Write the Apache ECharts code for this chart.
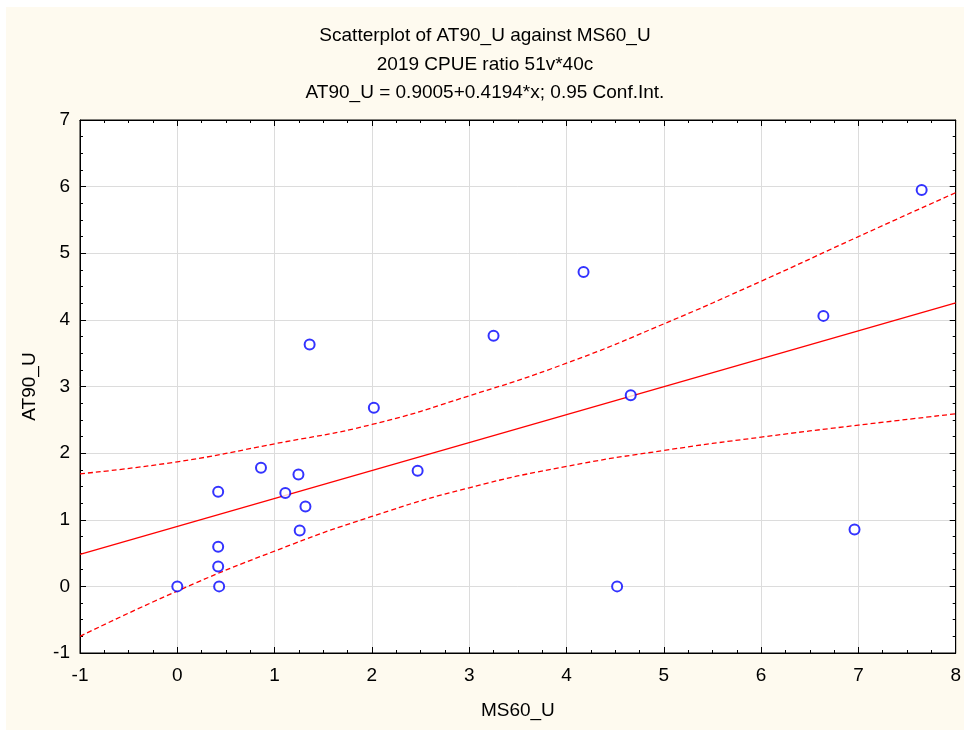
<!DOCTYPE html>
<html>
<head>
<meta charset="utf-8">
<script src="https://cdn.jsdelivr.net/npm/echarts@6/dist/echarts.min.js"></script>
<style>
  html, body { margin: 0; padding: 0; background: #ffffff; }
  #chart_scatter { position: absolute; left: 6px; top: 7px; width: 958px; height: 723px; background: #fefaef; }
</style>
</head>
<body>
<div id="chart_scatter"></div>
<script>
  // MS60_U (x) and AT90_U (y) for each case
  const ms60 = [0, 0.43, 0.42, 0.42, 0.42, 0.86, 1.11, 1.245, 1.317, 1.258, 2.02, 2.47, 1.36, 3.25, 4.175, 4.66, 4.52, 6.64, 6.96, 7.65]
  const at90 = [0, 0, 0.30, 0.595, 1.42, 1.78, 1.40, 1.68, 1.20, 0.84, 2.68, 1.735, 3.63, 3.76, 4.72, 2.87, 0, 4.06, 0.855, 5.95]

  // fitted line AT90_U = 0.9005+0.4194*x, end points
  const fitX = [-1, 8]
  const fitY = [0.481, 4.256]

  // 0.95 confidence band, read at whole x values
  const bandX = [-1, 0, 1, 2, 3, 4, 5, 6, 7, 8]
  const bandUpper = [1.69, 1.87, 2.14, 2.43, 2.86, 3.35, 3.94, 4.58, 5.25, 5.91]
  const bandLower = [-0.75, -0.07, 0.53, 1.05, 1.48, 1.80, 2.04, 2.24, 2.42, 2.59]

  const xTicks = [-1, 0, 1, 2, 3, 4, 5, 6, 7, 8]
  const yTicks = [-1, 0, 1, 2, 3, 4, 5, 6, 7]

  const zip = (a, b) => a.map((v, i) => [v, b[i]])

  const font = 'Liberation Sans, Arial, sans-serif'
  const red = '#ff0000'
  const blue = '#0000ff'

  function frameAxis (extra) {
    return Object.assign({
      type: 'value',
      axisLine: { show: true, onZero: false, lineStyle: { color: '#000', width: 1 } },
      axisTick: { show: true, inside: true, length: 6, lineStyle: { color: '#000' } },
      minorTick: { show: true, splitNumber: 4, length: 3, lineStyle: { color: '#000' } },
      splitLine: { show: false },
      axisLabel: { show: false }
    }, extra)
  }

  const chart = echarts.init(document.getElementById('chart_scatter'))
  const options = {
    animation: false,
    textStyle: { fontFamily: font },
    title: {
      text: 'Scatterplot of AT90_U against MS60_U\n2019 CPUE ratio 51v*40c\nAT90_U = 0.9005+0.4194*x; 0.95 Conf.Int.',
      left: 'center',
      top: 15,
      padding: 0,
      textStyle: { fontFamily: font, fontSize: 19, fontWeight: 'normal', color: '#000', lineHeight: 28.5 }
    },
    grid: {
      left: 74,
      top: 113,
      right: 6,
      bottom: 77,
      show: true,
      backgroundColor: '#ffffff',
      borderColor: '#000',
      borderWidth: 1
    },
    xAxis: [
      frameAxis({
        min: xTicks[0],
        max: xTicks[xTicks.length - 1],
        interval: 1,
        position: 'bottom',
        name: 'MS60_U',
        nameLocation: 'middle',
        nameGap: 48,
        nameTextStyle: { fontFamily: font, fontSize: 19, color: '#000' },
        axisLabel: { show: true, margin: 13, fontFamily: font, fontSize: 19, color: '#000' },
        splitLine: { show: true, lineStyle: { color: '#dcdcdc', width: 1 } }
      }),
      frameAxis({ min: xTicks[0], max: xTicks[xTicks.length - 1], interval: 1, position: 'top' })
    ],
    yAxis: [
      frameAxis({
        min: yTicks[0],
        max: yTicks[yTicks.length - 1],
        interval: 1,
        position: 'left',
        name: 'AT90_U',
        nameLocation: 'middle',
        nameGap: 41,
        nameTextStyle: { fontFamily: font, fontSize: 19, color: '#000' },
        axisLabel: { show: true, margin: 10, fontFamily: font, fontSize: 19, color: '#000' },
        splitLine: { show: true, lineStyle: { color: '#dcdcdc', width: 1 } }
      }),
      frameAxis({ min: yTicks[0], max: yTicks[yTicks.length - 1], interval: 1, position: 'right' })
    ],
    series: [
      {
        name: 'fit',
        type: 'line',
        data: zip(fitX, fitY),
        showSymbol: false,
        lineStyle: { color: red, width: 1.3 }
      },
      {
        name: 'upper',
        type: 'line',
        smooth: true,
        data: zip(bandX, bandUpper),
        showSymbol: false,
        lineStyle: { color: red, width: 1.3, type: [5, 3] }
      },
      {
        name: 'lower',
        type: 'line',
        smooth: true,
        data: zip(bandX, bandLower),
        showSymbol: false,
        lineStyle: { color: red, width: 1.3, type: [5, 3] }
      },
      {
        name: 'cases',
        type: 'scatter',
        data: zip(ms60, at90),
        symbol: 'emptyCircle',
        symbolSize: 10,
        itemStyle: { color: blue, borderColor: blue, borderWidth: 1.4 },
        z: 5
      }
    ]
  }
  chart.setOption(options)
</script>
</body>
</html>
